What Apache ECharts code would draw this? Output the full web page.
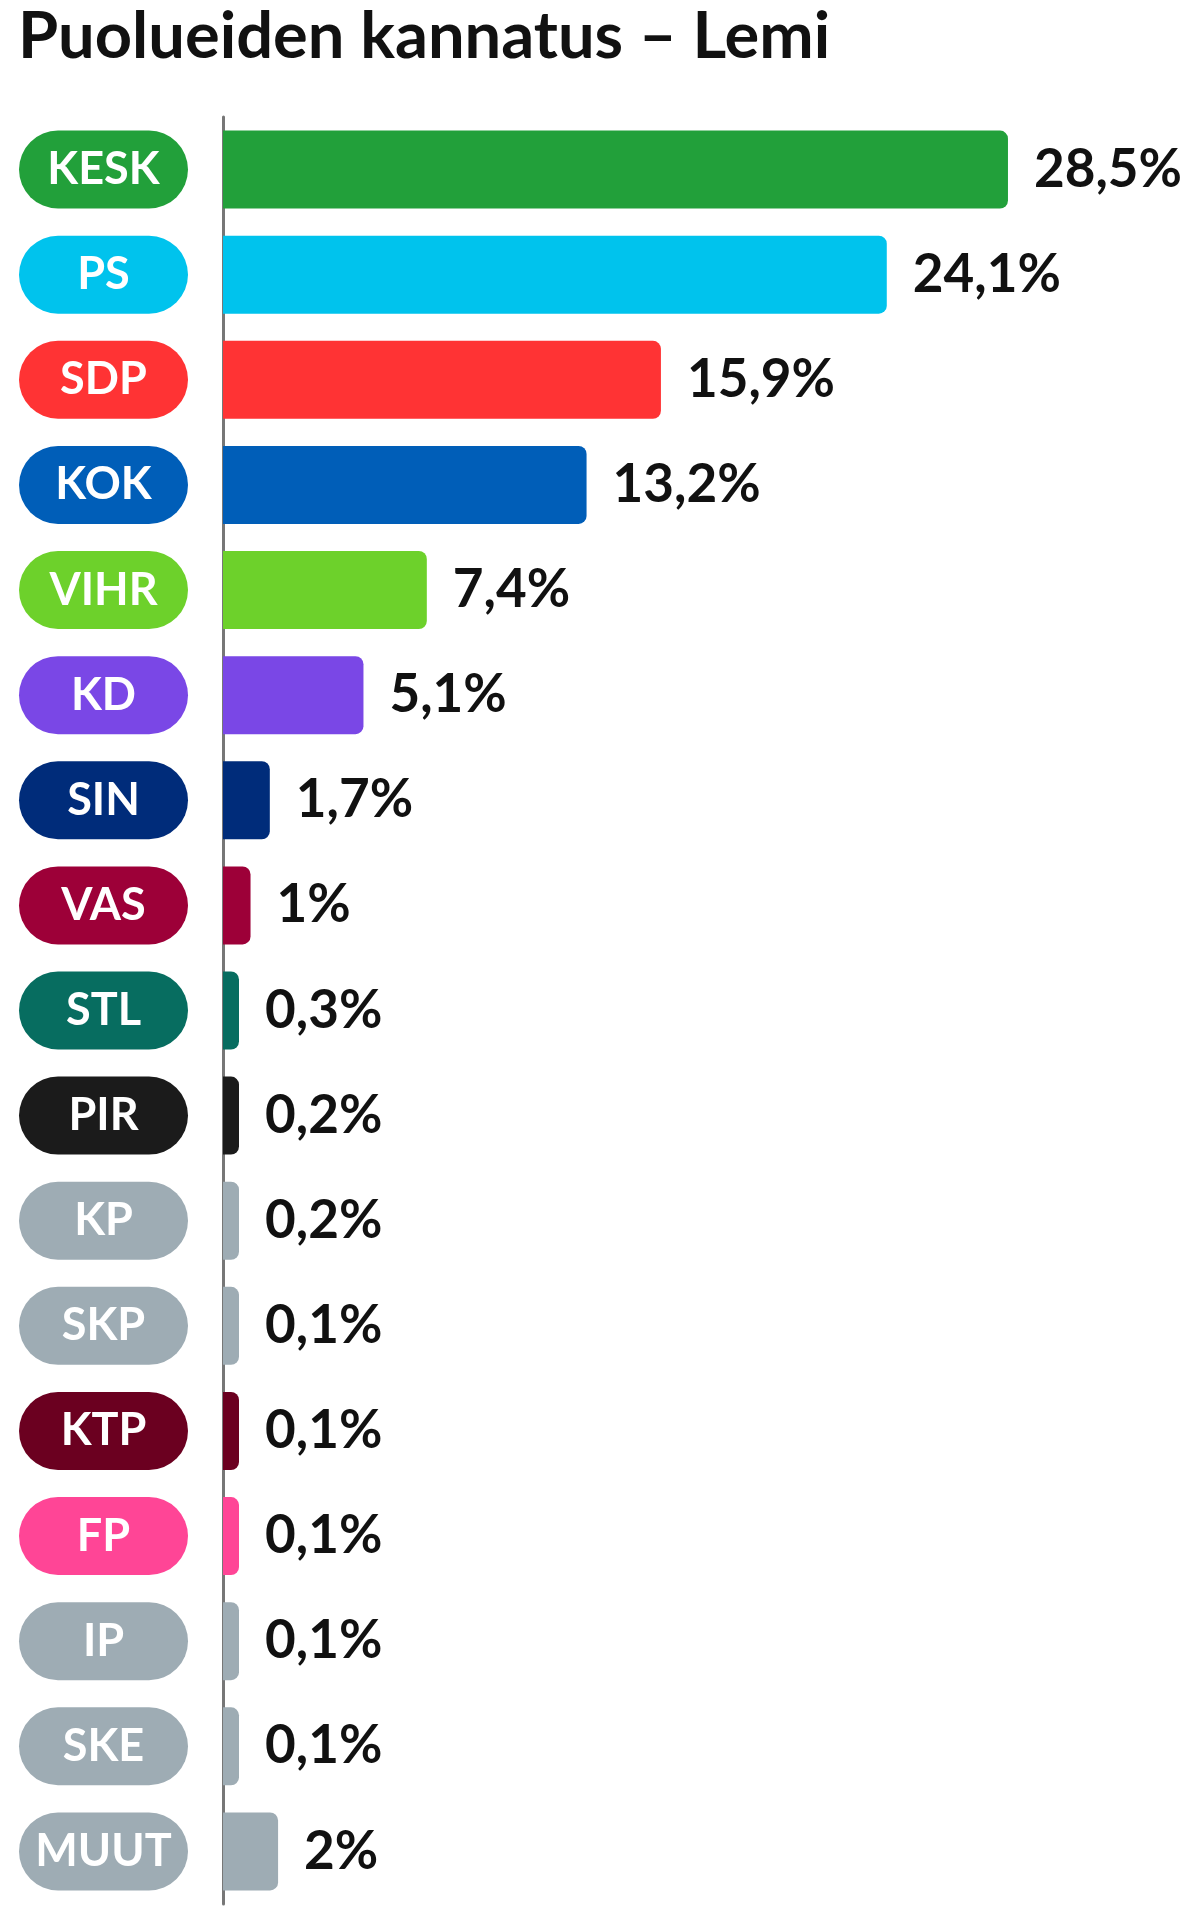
<!DOCTYPE html><html><head><meta charset="utf-8"><script src="https://cdn.jsdelivr.net/npm/echarts@6/dist/echarts.min.js"></script>
<style>html,body{margin:0;background:#fff}#c{width:1199px;height:1930px}</style></head><body><div id="c"></div><script>
const parties=['KESK','PS','SDP','KOK','VIHR','KD','SIN','VAS','STL','PIR','KP','SKP','KTP','FP','IP','SKE','MUUT'];
const values=[28.5,24.1,15.9,13.2,7.4,5.1,1.7,1,0.3,0.2,0.2,0.1,0.1,0.1,0.1,0.1,2];
const colors=['#22a03a','#00c3ed','#ff3334','#005eb8','#6dd12b','#7a47e6','#002c7a','#9d0038','#076d60','#1b1b1b','#9eacb4','#9eacb4','#6b0020','#ff4596','#9eacb4','#9eacb4','#9eacb4'];
const F='Lato, "Open Sans", sans-serif';
const rich={};
parties.forEach((p,i)=>{rich['p'+i]={backgroundColor:colors[i],color:'#fff',width:169,height:78,borderRadius:39,align:'center',fontSize:45,fontWeight:'bold',fontFamily:F};});
const chart=echarts.init(document.getElementById('c'));
chart.setOption({
animation:false,
title:{text:'Puolueiden kannatus – Lemi',left:13,top:0,textStyle:{fontSize:65,fontWeight:'bold',color:'#111',fontFamily:F}},
grid:{left:223,right:12,top:117,bottom:26,containLabel:false},
xAxis:{type:'value',min:0,max:35,show:false},
yAxis:{type:'category',inverse:true,data:parties,
 axisLine:{show:true,lineStyle:{color:'#777',width:3}},axisTick:{show:false},
 axisLabel:{margin:35,align:'right',formatter:(v,i)=>'{p'+i+'|'+v+'}',rich:rich}},
series:[{type:'bar',data:values.map((v,i)=>({value:v,itemStyle:{color:colors[i]}})),barWidth:78,barMinHeight:16,
 itemStyle:{borderRadius:[0,8,8,0]},
 label:{show:true,position:'right',distance:26,formatter:p=>String(p.value).replace('.',',')+'%',fontSize:53,fontWeight:'bold',color:'#111',fontFamily:F}}]
});
</script></body></html>
